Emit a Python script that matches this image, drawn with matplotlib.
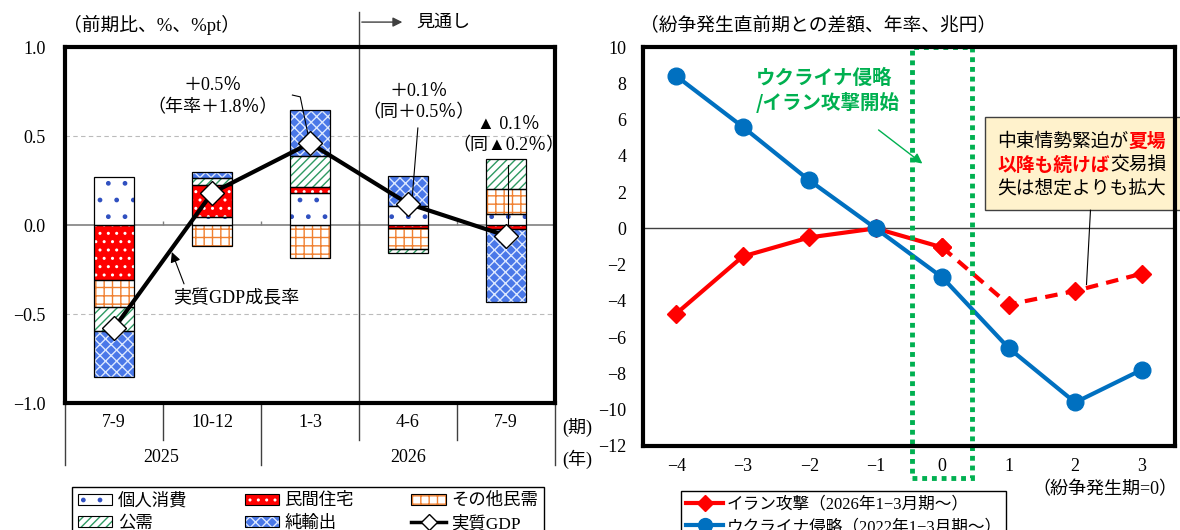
import numpy as np
import matplotlib.pyplot as plt
import matplotlib.transforms as mtransforms
from matplotlib.patches import Rectangle, Patch
from matplotlib.lines import Line2D
from matplotlib.legend_handler import HandlerTuple

plt.rcParams['font.family'] = ['Liberation Serif', 'Noto Sans CJK JP']
plt.rcParams['hatch.linewidth'] = 1.0
GOTHIC = ['Noto Sans CJK JP', 'DejaVu Sans']

# ---- left panel: GDP growth contributions ----
quarters = ['7-9', '10-12', '1-3', '4-6', '7-9']
years = ['2025', '2026']
comp_names = ['個人消費', '民間住宅', 'その他民需', '公需', '純輸出']
personal = [0.27, 0.045, 0.18, 0.105, 0.06]
housing = [-0.31, 0.18, 0.035, -0.015, -0.02]
other_priv = [-0.15, -0.12, -0.185, -0.12, 0.145]
public = [-0.135, 0.04, 0.175, -0.025, 0.165]
net_exports = [-0.26, 0.035, 0.255, 0.17, -0.41]
real_gdp = [-0.58, 0.18, 0.46, 0.12, -0.06]
gdp_notes = ['＋0.5％\n（年率＋1.8％）', '＋0.1％\n（同＋0.5％）', '▲ 0.1％\n（同▲0.2％）']

# ---- right panel: terms-of-trade loss after conflict ----
periods = [-4, -3, -2, -1, 0, 1, 2, 3]
iran = [-4.7, -1.55, -0.5, 0.0, -1.05, -4.2, -3.45, -2.5]
ukraine = [8.4, 5.6, 2.65, 0.0, -2.7, -6.6, -9.6, -7.8]

# face, hatch, hatch colour
styles = [('white', '.', '#3050c0'),
          ('#ff0000', '..', 'white'),
          ('white', '++', '#f08030'),
          ('white', '////', '#2e9a62'),
          ('#4a78e8', 'xxx', '#dce8ff')]

fig = plt.figure(figsize=(11.8, 5.3), dpi=100)
ax1 = fig.add_axes([0.0551, 0.2396, 0.4153, 0.6717])
ax2 = fig.add_axes([0.5449, 0.1585, 0.4508, 0.7528])

x = np.arange(len(quarters))
pos_base = np.zeros(len(x))
neg_base = np.zeros(len(x))
for vals, (fc, hatch, hc) in zip([personal, housing, other_priv, public, net_exports], styles):
    v = np.array(vals)
    bottom = np.where(v >= 0, pos_base, neg_base)
    ax1.bar(x, v, 0.4, bottom=bottom, color=fc, edgecolor=hc, hatch=hatch, linewidth=0, zorder=2)
    ax1.bar(x, v, 0.4, bottom=bottom, fill=False, edgecolor='black', linewidth=0.9, zorder=3)
    pos_base += np.where(v > 0, v, 0)
    neg_base += np.where(v < 0, v, 0)

ax1.plot(x, real_gdp, color='black', lw=3, marker='D', ms=12, mfc='white', mec='black',
         mew=1, zorder=5)

ax1.axhline(0, color='#808080', lw=1.2, zorder=1)
for g in (-0.5, 0.5):
    ax1.axhline(g, color='#bbbbbb', lw=0.8, ls=(0, (4, 3)), zorder=1)
ax1.vlines([0.5, 1.5, 2.5, 3.5], 0, 0.025, color='#808080', lw=1, zorder=1)

ax1.set_xlim(-0.5, 4.5)
ax1.set_ylim(-1, 1)
ax1.set_yticks([-1, -0.5, 0, 0.5, 1])
ax1.set_yticklabels(['−1.0', '−0.5', '0.0', '0.5', '1.0'])
ax1.set_xticks([])
ax1.tick_params(axis='y', length=0, pad=14, labelsize=13)
for s in ax1.spines.values():
    s.set_linewidth(3)
    s.set_zorder(6)

# category table under the axis
trans = mtransforms.blended_transform_factory(ax1.transData, ax1.transAxes)
for b in (0.5, 2.5, 3.5):
    ax1.plot([b, b], [0, -0.105], transform=trans, color='#404040', lw=1, clip_on=False)
for b in (-0.5, 1.5, 4.5):
    ax1.plot([b, b], [0, -0.175], transform=trans, color='#404040', lw=1, clip_on=False)
for xi, q in zip(x, quarters):
    ax1.text(xi, -0.056, q, transform=trans, ha='center', va='center', fontsize=13)
ax1.text(0.48, -0.152, years[0], transform=trans, ha='center', va='center', fontsize=13)
ax1.text(3.0, -0.152, years[1], transform=trans, ha='center', va='center', fontsize=13)
ax1.text(4.57, -0.07, '(期)', transform=trans, ha='left', va='center', fontsize=13)
ax1.text(4.57, -0.158, '(年)', transform=trans, ha='left', va='center', fontsize=13)

# forecast divider
ax1.plot([2.5, 2.5], [0, 1.098], transform=trans, color='#404040', lw=1, clip_on=False, zorder=4)
ax1.annotate('', xy=(2.97, 1.07), xytext=(2.5, 1.07), xycoords=trans, textcoords=trans,
             arrowprops=dict(arrowstyle='-|>', color='#404040', lw=1, mutation_scale=14))
ax1.text(3.08, 1.07, '見通し', transform=trans, ha='left', va='center', fontsize=13)

# growth rate notes
ax1.text(1.01, 0.72, gdp_notes[0], ha='center', va='center', fontsize=13, linespacing=1.35)
ax1.plot([1.82, 1.90, 1.99], [0.73, 0.72, 0.48], color='black', lw=0.8, zorder=4)
ax1.text(3.11, 0.69, gdp_notes[1], ha='center', va='center', fontsize=13, linespacing=1.35)
ax1.plot([3.10, 3.04], [0.545, 0.14], color='black', lw=0.8, zorder=4)
ax1.text(4.02, 0.505, gdp_notes[2], ha='center', va='center', fontsize=13, linespacing=1.35,
         clip_on=False)
ax1.plot([4.02, 4.02], [0.337, -0.03], color='black', lw=0.8, zorder=4)
ax1.annotate('実質GDP成長率', xy=(0.59, -0.152), xytext=(1.25, -0.41), ha='center',
             va='center', fontsize=13,
             arrowprops=dict(arrowstyle='-|>', color='black', lw=0.8, mutation_scale=15,
                             shrinkA=2, shrinkB=0, relpos=(0.1, 1.0)))

fig.text(63 / 1180, 1 - 25 / 530, '（前期比、%、%pt）', ha='left', va='center', fontsize=13.5)

# left legend
border = Patch(fill=False, edgecolor='black', linewidth=0.8)
handles = []
for fc, hatch, hc in styles:
    handles.append((Patch(facecolor=fc, edgecolor=hc, hatch=hatch, linewidth=0), border))
gdp_handle = Line2D([], [], color='black', lw=2.5, marker='D', ms=8, mfc='white', mec='black')
order = [0, 3, 1, 4]
leg_handles = [handles[i] for i in order] + [handles[2], gdp_handle]
leg_labels = [comp_names[i] for i in order] + [comp_names[2], '実質GDP']
leg1 = fig.legend(leg_handles, leg_labels, loc='upper left', ncol=3, mode='expand',
                  bbox_to_anchor=(63 / 1180, -0.3, 490 / 1180, 0.3 + 1 - 478 / 530),
                  handler_map={tuple: HandlerTuple(ndivide=1)}, fontsize=12.5,
                  frameon=True, fancybox=False, edgecolor='black', framealpha=1,
                  handlelength=2.0, handleheight=0.6, handletextpad=0.3,
                  borderpad=0.35, labelspacing=0.35)
leg1.get_frame().set_linewidth(1)

# ---- right panel ----
ax2.plot(periods[:5], iran[:5], color='#ff0000', lw=3, marker='D', ms=9, zorder=4)
ax2.plot(periods[4:], iran[4:], color='#ff0000', lw=3, ls=(0, (3, 2)), marker='D', ms=9,
         zorder=4)
ax2.plot(periods, ukraine, color='#0070c0', lw=3, marker='o', ms=12, zorder=4)
ax2.axhline(0, color='#404040', lw=1, zorder=1)

ax2.set_xlim(-4.5, 3.5)
ax2.set_ylim(-12, 10)
ax2.set_xticks(periods)
ax2.set_xticklabels([str(p).replace('-', '−') for p in periods])
ax2.set_yticks(range(-12, 11, 2))
ax2.set_yticklabels([str(v).replace('-', '−') for v in range(-12, 11, 2)])
ax2.tick_params(axis='both', length=0, labelsize=13)
ax2.tick_params(axis='y', pad=12)
ax2.tick_params(axis='x', pad=9)
for s in ax2.spines.values():
    s.set_linewidth(3)
    s.set_zorder(6)

# outbreak window
ax2.add_patch(Rectangle((-0.45, -13.75), 0.9, 23.75, fill=False, edgecolor='#00b050',
                        lw=3.5, ls=(0, (1, 1)), clip_on=False, zorder=5))
ax2.text(-2.8, 7.6, 'ウクライナ侵略\n/イラン攻撃開始', family=GOTHIC, fontweight='bold',
         color='#00b050', fontsize=14, ha='left', va='center', linespacing=1.25)
ax2.annotate('', xy=(-0.265, 3.48), xytext=(-0.99, 5.52),
             arrowprops=dict(arrowstyle='-|>', color='#00b050', lw=1, mutation_scale=15))

# callout box
ax2.add_patch(Rectangle((0.64, 1.0), 3.0, 5.13, facecolor='#fff2cc', edgecolor='#404040',
                        lw=1, clip_on=False, zorder=3))
ax2.plot([2.23, 2.17], [1.0, -3.1], color='black', lw=0.8, zorder=3)
fs = 13.5
box_lines = [
    (4.8, [('中東情勢緊迫が', 'black', 'normal'), ('夏場', '#ff0000', 'bold')]),
    (3.48, [('以降も続けば', '#ff0000', 'bold'), ('交易損', 'black', 'normal')]),
    (2.15, [('失は想定よりも拡大', 'black', 'normal')]),
]
for yy, pieces in box_lines:
    n = 0
    for txt, col, wt in pieces:
        ax2.annotate(txt, xy=(0.834, yy), xytext=(n * fs, 0), textcoords='offset points',
                     ha='left', va='center', fontsize=fs, color=col, fontweight=wt,
                     family=GOTHIC, zorder=4, annotation_clip=False)
        n += len(txt)

fig.text(640 / 1180, 1 - 25 / 530, '（紛争発生直前期との差額、年率、兆円）', ha='left',
         va='center', fontsize=13.5)
fig.text(1105 / 1180, 1 - 490 / 530, '（紛争発生期=0）', ha='center', va='center', fontsize=13)

leg2_handles = [Line2D([], [], color='#ff0000', lw=3, marker='D', ms=8),
                Line2D([], [], color='#0070c0', lw=3, marker='o', ms=10)]
leg2 = fig.legend(leg2_handles, ['イラン攻撃（2026年1−3月期～）', 'ウクライナ侵略（2022年1−3月期～）'],
                  loc='upper left', bbox_to_anchor=(673 / 1180, 1 - 483 / 530), fontsize=12,
                  frameon=True, fancybox=False, edgecolor='black', framealpha=1,
                  handlelength=2.2, handletextpad=0.2, borderpad=0.3, labelspacing=0.4)
leg2.get_frame().set_linewidth(1)

fig.savefig('out.png', dpi=100)
